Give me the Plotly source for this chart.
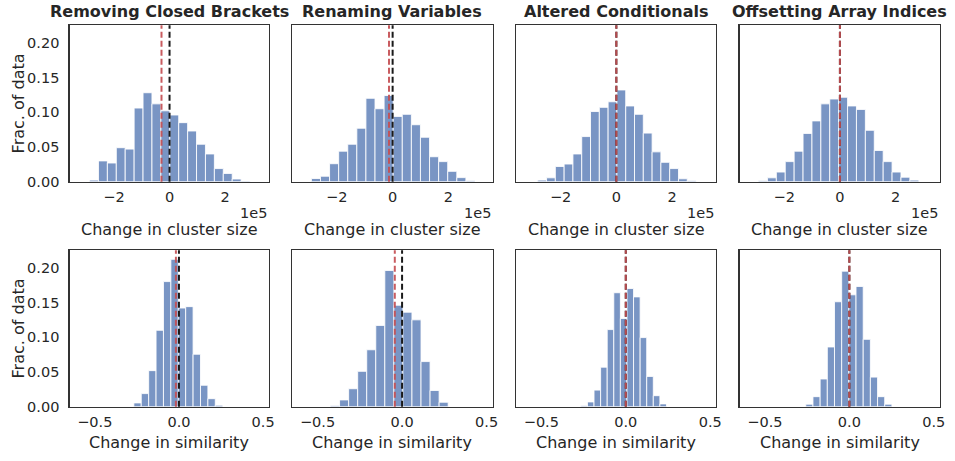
import plotly.graph_objects as go

W, H = 947, 461

titles = ["Removing Closed Brackets", "Renaming Variables", "Altered Conditionals", "Offsetting Array Indices"]

# Top row: change in cluster size (units of 1e5), histogram fractions
size_bin_start = [-2.88, -2.91, -2.82, -2.92]
size_bin_width = [0.321, 0.3256, 0.3156, 0.3194]
size_p1 = [0.0024, 0.030, 0.027, 0.049, 0.047, 0.106, 0.128, 0.112, 0.102, 0.096, 0.085, 0.073, 0.054, 0.040, 0.019, 0.012, 0.004, 0.001]
size_p2 = [0.0047, 0.008, 0.026, 0.044, 0.054, 0.077, 0.120, 0.105, 0.124, 0.094, 0.097, 0.082, 0.064, 0.036, 0.029, 0.015, 0.006, 0.0014]
size_p3 = [0.0024, 0.0057, 0.022, 0.0255, 0.040, 0.065, 0.101, 0.107, 0.115, 0.132, 0.109, 0.097, 0.070, 0.043, 0.028, 0.019, 0.0043, 0.0014]
size_p4 = [0.0014, 0.0057, 0.014, 0.029, 0.044, 0.0695, 0.0875, 0.112, 0.119, 0.1215, 0.109, 0.104, 0.074, 0.045, 0.029, 0.014, 0.0066, 0.0024]
size_mean = [-0.29, -0.13, 0.0, 0.0]
size_zero = [0.0, 0.0, 0.0, 0.0]

# Bottom row: change in similarity
sim_bin_start = [-0.268, -0.423, -0.266, -0.258]
sim_bin_width = [0.044, 0.0535, 0.039, 0.0425]
sim_p1 = [0.0056, 0.019, 0.052, 0.110, 0.180, 0.212, 0.142, 0.144, 0.0756, 0.031, 0.0117, 0.0023]
sim_p2 = [0.0014, 0.0099, 0.026, 0.051, 0.082, 0.117, 0.196, 0.146, 0.136, 0.125, 0.065, 0.0235, 0.0066]
sim_p3 = [0.0014, 0.007, 0.024, 0.057, 0.111, 0.164, 0.127, 0.170, 0.158, 0.0995, 0.0437, 0.016, 0.0042]
sim_p4 = [0.0038, 0.0146, 0.040, 0.086, 0.151, 0.195, 0.161, 0.173, 0.097, 0.0427, 0.0146, 0.0038]
sim_mean = [-0.018, -0.043, 0.0, 0.0]
sim_zero = [0.0, 0.0, 0.0, 0.0]

size_ticks = [-2, 0, 2]
size_ticktext = ["\u22122", "0", "2"]
sim_ticks = [-0.5, 0.0, 0.5]
sim_ticktext = ["\u22120.5", "0.0", "0.5"]
y_ticks = [0.0, 0.05, 0.10, 0.15, 0.20]

size_hists = [size_p1, size_p2, size_p3, size_p4]
sim_hists = [sim_p1, sim_p2, sim_p3, sim_p4]

TXT = "#262626"
FONT = "DejaVu Sans"
BAR = "rgba(76,114,176,0.75)"
RED = "rgba(196,78,82,0.92)"

col_px = [(70, 270.7), (294, 495.7), (519.3, 720.7), (744.3, 945.7)]
row_px = [(25.7, 185.0), (254.7, 414.0)]

fig = go.Figure()
shapes = []
annotations = []
layout = {}

def px_x(v):
    return v / W

def px_y(v):
    return 1 - v / H

for r in range(2):
    for c in range(4):
        idx = r * 4 + c + 1
        xa = "x" if idx == 1 else f"x{idx}"
        ya = "y" if idx == 1 else f"y{idx}"
        if r == 0:
            start, width, hist = size_bin_start[c], size_bin_width[c], size_hists[c]
            mean, zero = size_mean[c], size_zero[c]
            xrange = [-3.6, 3.58]
            tv, tt = size_ticks, size_ticktext
        else:
            start, width, hist = sim_bin_start[c], sim_bin_width[c], sim_hists[c]
            mean, zero = sim_mean[c], sim_zero[c]
            xrange = [-0.65, 0.535]
            tv, tt = sim_ticks, sim_ticktext
        centers = [start + width * (i + 0.5) for i in range(len(hist))]
        fig.add_trace(go.Bar(
            x=centers, y=hist, width=[width] * len(hist),
            marker=dict(color=BAR, line=dict(color="rgba(255,255,255,0.85)", width=1)),
            xaxis=xa, yaxis=ya, showlegend=False, hoverinfo="skip",
        ))
        # zero line (black) then mean line (red)
        shapes.append(dict(type="line", xref=xa, yref=f"{ya} domain", x0=zero, x1=zero, y0=0, y1=1,
                           line=dict(color="#1a1a1a", width=2, dash="6px,3px"), layer="above"))
        shapes.append(dict(type="line", xref=xa, yref=f"{ya} domain", x0=mean, x1=mean, y0=0, y1=1,
                           line=dict(color=RED, width=2, dash="6px,3px"), layer="above"))
        x0p, x1p = col_px[c]
        y0p, y1p = row_px[r]
        layout["xaxis" if idx == 1 else f"xaxis{idx}"] = dict(
            domain=[px_x(x0p), px_x(x1p)], range=xrange, anchor=ya,
            showline=True, mirror=True, linecolor="#333333", linewidth=1.25,
            showgrid=False, zeroline=False, ticks="", tickvals=tv, ticktext=tt,
            tickfont=dict(family=FONT, size=14.5, color=TXT), ticklabelstandoff=2,
        )
        layout["yaxis" if idx == 1 else f"yaxis{idx}"] = dict(
            domain=[px_y(y1p), px_y(y0p)], range=[0, 0.225], anchor=xa,
            showline=True, mirror=True, linecolor="#333333", linewidth=1.25,
            showgrid=False, zeroline=False, ticks="", tickvals=y_ticks,
            tickformat=".2f", showticklabels=(c == 0),
            tickfont=dict(family=FONT, size=14.5, color=TXT), ticklabelstandoff=6,
        )
        xc = (x0p + x1p) / 2
        if r == 0:
            annotations.append(dict(text="<b>" + titles[c] + "</b>", xref="paper", yref="paper",
                                    x=px_x(xc), y=px_y(11.5), xanchor="center", yanchor="middle",
                                    showarrow=False, font=dict(family=FONT, size=16, color=TXT)))
            annotations.append(dict(text="Change in cluster size", xref="paper", yref="paper",
                                    x=px_x(xc), y=px_y(234), xanchor="center", yanchor="middle",
                                    showarrow=False, font=dict(family=FONT, size=16, color=TXT)))
            annotations.append(dict(text="1e5", xref="paper", yref="paper",
                                    x=px_x(x1p), y=px_y(217), xanchor="right", yanchor="middle",
                                    showarrow=False, font=dict(family=FONT, size=14.5, color=TXT)))
        else:
            annotations.append(dict(text="Change in similarity", xref="paper", yref="paper",
                                    x=px_x(xc), y=px_y(450.5), xanchor="center", yanchor="middle",
                                    showarrow=False, font=dict(family=FONT, size=16, color=TXT)))
    yc = (row_px[r][0] + row_px[r][1]) / 2
    annotations.append(dict(text="Frac. of data", xref="paper", yref="paper",
                            x=px_x(19), y=px_y(yc), xanchor="center", yanchor="middle", textangle=-90,
                            showarrow=False, font=dict(family=FONT, size=16, color=TXT)))

fig.update_layout(
    width=W, height=H, margin=dict(l=0, r=0, t=0, b=0),
    paper_bgcolor="white", plot_bgcolor="white",
    barmode="overlay", bargap=0,
    shapes=shapes, annotations=annotations,
    font=dict(family=FONT, color=TXT),
    **layout,
)

fig.write_html("out.html", config={"displayModeBar": False, "staticPlot": True},
               post_script="document.body.style.margin='0';document.body.style.overflow='hidden';")
